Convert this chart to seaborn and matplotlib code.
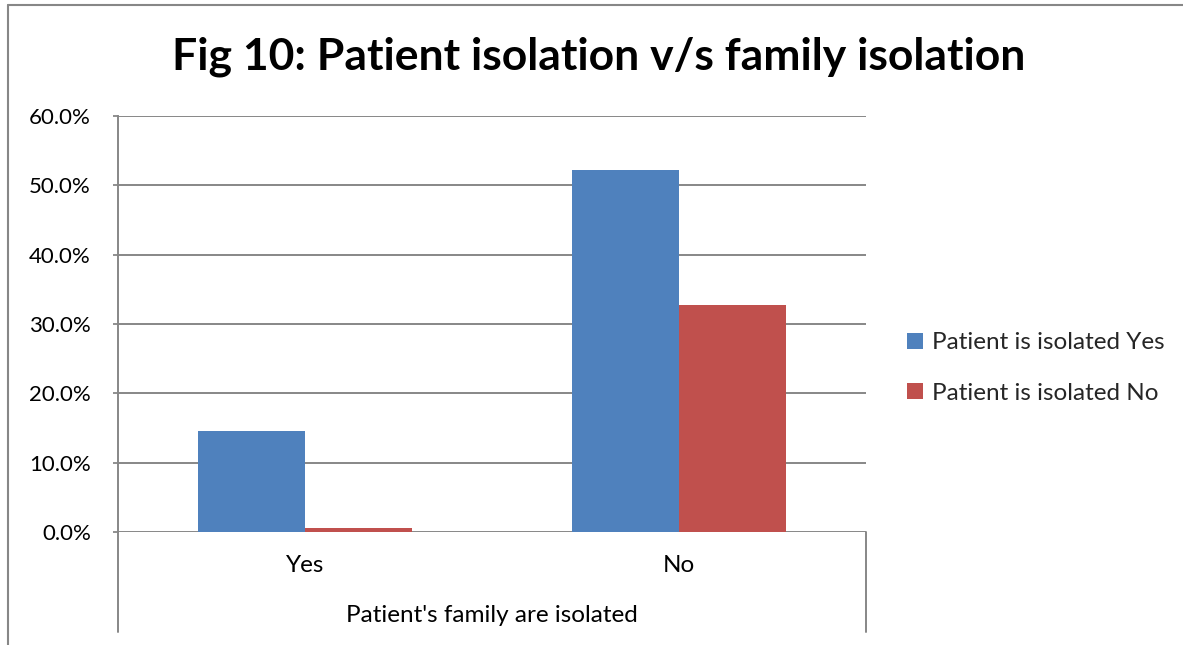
import matplotlib
matplotlib.use("Agg")
import matplotlib.pyplot as plt
import seaborn as sns
import pandas as pd
from matplotlib.ticker import FuncFormatter
from matplotlib.patches import Patch
from matplotlib.lines import Line2D

categories = ["Yes", "No"]
series_names = ["Patient is isolated Yes", "Patient is isolated No"]
patient_yes = [14.5, 52.2]
patient_no = [0.6, 32.7]
yticks = [0, 10, 20, 30, 40, 50, 60]
title = "Fig 10: Patient isolation v/s family isolation"
xlabel = "Patient's family are isolated"
colors = ["#4F81BD", "#C0504D"]

df = pd.DataFrame({
    "family": categories * 2,
    "series": [series_names[0]] * 2 + [series_names[1]] * 2,
    "value": patient_yes + patient_no,
})

sns.set_theme(style="white")
plt.rcParams["font.family"] = ["Lato", "DejaVu Sans"]

W, H = 1183, 645
fig = plt.figure(figsize=(W / 100, H / 100), dpi=100)
ax = fig.add_axes([118 / W, 1 - 532 / H, (866 - 118) / W, (532 - 116) / H])

sns.barplot(data=df, x="family", y="value", hue="series", order=categories,
            hue_order=series_names, palette=colors, width=0.572, ax=ax,
            saturation=1, legend=False, linewidth=0)

grid_c = "#878787"
ax.set_ylim(0, 60)
ax.set_xlim(-0.5, 1.5)
ax.set_yticks(yticks)
ax.yaxis.set_major_formatter(FuncFormatter(lambda v, p: f"{v:.1f}%"))
ax.tick_params(axis="y", labelsize=16, colors=grid_c, labelcolor="black",
               length=3.6, width=1.3, direction="out", left=True, pad=16)
ax.tick_params(axis="x", bottom=False, labelbottom=False)
ax.set_axisbelow(True)
ax.yaxis.grid(True, color=grid_c, linewidth=1.4)
for s in ["top", "right", "bottom"]:
    ax.spines[s].set_visible(False)
ax.spines["left"].set_color(grid_c)
ax.spines["left"].set_linewidth(1.4)
ax.set_xlabel("")
ax.set_ylabel("")

# multi-level category axis box below plot
ext = 100 / (532 - 116)
for xx in [0.0, 1.0]:
    ax.add_line(Line2D([xx, xx], [0, -ext], transform=ax.transAxes,
                       color=grid_c, linewidth=1.4, clip_on=False))
for i, c in enumerate(categories):
    ax.text(i, -(565 - 532) / (532 - 116) * 60, c, ha="center", va="center",
            fontsize=17.5, color="black")
ax.text(0.5, -(616 - 532) / (532 - 116), xlabel, transform=ax.transAxes,
        ha="center", va="center", fontsize=17.5, color="black")

fig.text(599 / W, 1 - 57 / H, title, ha="center", va="center",
         fontsize=32, fontweight="bold", color="black")

handles = [Patch(facecolor=c, edgecolor="none") for c in colors]
fig.legend(handles, series_names, loc="center left",
           bbox_to_anchor=(885 / W, 1 - 368 / H), frameon=False,
           fontsize=17.5, handlelength=0.65, handleheight=0.65,
           handletextpad=0.4, labelspacing=1.2)

# outer frame (left and top)
fig.add_artist(Line2D([8 / W, 8 / W], [0, 1 - 5 / H], transform=fig.transFigure,
                      color="#878787", linewidth=1.5))
fig.add_artist(Line2D([8 / W, 1], [1 - 5 / H, 1 - 5 / H], transform=fig.transFigure,
                      color="#878787", linewidth=1.5))

fig.savefig("out.png", dpi=100, facecolor="white")
